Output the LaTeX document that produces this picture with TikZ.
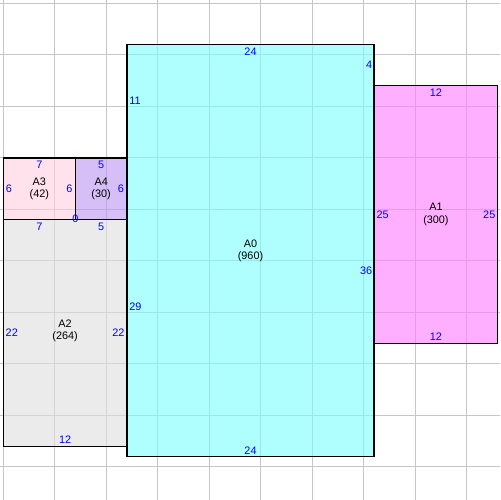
\documentclass[tikz,border=0pt]{standalone}
\usepackage{fontspec}
\setmainfont{Liberation Sans}
\begin{document}
\begin{tikzpicture}[x=0.2cm,y=-0.2cm,
  box/.style={draw=black,line width=0.8pt},
  gridline/.style={draw=gridc,line width=0.6pt},
  roomfill/.style={fill=#1,fill opacity=0.6},
  lab/.style={font=\fontsize{6}{6.8}\selectfont,inner sep=0pt},
  roomname/.style={lab,text=black,align=center},
  elab/.style={lab,text=blue},
  wlab/.style={elab,anchor=west},
  eastlab/.style={elab,anchor=east}]
\definecolor{gridc}{HTML}{C6C6C6}
\definecolor{cA0}{RGB}{123,255,255}
\definecolor{cA1}{RGB}{255,123,255}
\definecolor{cA2}{RGB}{222,222,222}
\definecolor{cA3}{RGB}{255,207,223}
\definecolor{cA4}{RGB}{187,148,240}
\useasboundingbox (-0.32,-0.32) rectangle (48.22,48.22);
\fill[white] (-0.32,-0.32) rectangle (48.22,48.22);
% grid
\foreach \k in {0,5,...,45} {
  \draw[gridline] (\k,-0.32) -- (\k,48.22);
  \draw[gridline] (-0.32,\k) -- (48.22,\k);
}
% fills
\fill[roomfill=cA0] (12,4) rectangle (36,44);
\fill[roomfill=cA1] (36,8) rectangle (48,33);
\fill[roomfill=cA2] (0,21) rectangle (12,43);
\fill[roomfill=cA3] (0,15) rectangle (7,21);
\fill[roomfill=cA4] (7,15) rectangle (12,21);
% borders
\draw[box] (12,4) rectangle (36,44);
\draw[box] (36,8) rectangle (48,33);
\draw[box] (0,21) rectangle (12,43);
\draw[box] (0,15) rectangle (7,21);
\draw[box] (7,15) rectangle (12,21);
% names
\node[roomname] (nA0) at (24,24) {A0\\(960)};
\node[roomname] (nA1) at (42,20.5) {A1\\(300)};
\node[roomname] (nA2) at (6,31.8) {A2\\(264)};
\node[roomname] (nA3) at (3.5,18) {A3\\(42)};
\node[roomname] (nA4) at (9.5,18) {A4\\(30)};
% A0 edges
\node[elab] (a0t) at (24,4.68) {24};
\node[elab] (a0b) at (24,43.4) {24};
\node[wlab] (a0l1) at (12.2,9.5) {11};
\node[wlab] (a0l2) at (12.2,29.5) {29};
\node[eastlab] (a0r1) at (35.85,6) {4};
\node[eastlab] (a0r2) at (35.85,26) {36};
% A1 edges
\node[elab] (a1t) at (42,8.68) {12};
\node[elab] (a1b) at (42,32.35) {12};
\node[wlab] (a1l) at (36.2,20.5) {25};
\node[eastlab] (a1r) at (47.8,20.5) {25};
% A2 edges
\node[elab] (a2t1) at (3.5,21.68) {7};
\node[elab] (a2t2) at (9.5,21.68) {5};
\node[elab] (a2b) at (6,42.35) {12};
\node[wlab] (a2l) at (0.2,32) {22};
\node[eastlab] (a2r) at (11.8,32) {22};
% A3 edges
\node[elab] (a3t) at (3.5,15.65) {7};
\node[wlab] (a3l) at (0.22,18) {6};
\node[eastlab] (a3r) at (6.75,18) {6};
% A4 edges
\node[elab] (a4t) at (9.5,15.65) {5};
\node[eastlab] (a4r) at (11.75,18) {6};
\node[elab] (zero) at (7,20.95) {0};
\end{tikzpicture}
\end{document}
